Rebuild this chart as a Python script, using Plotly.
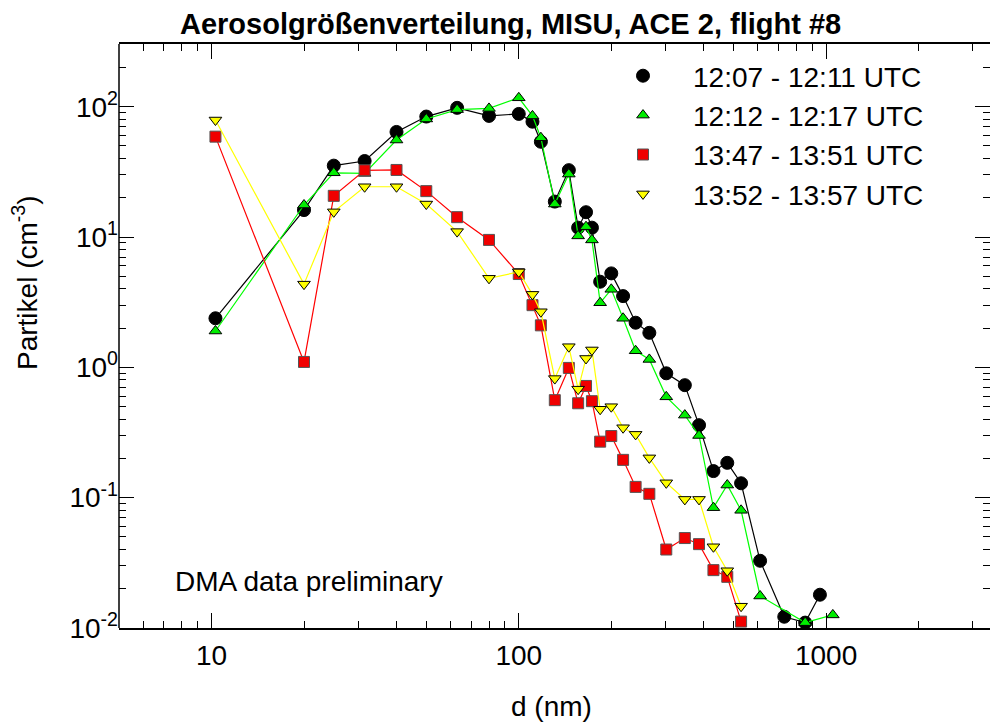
import math
import plotly.graph_objects as go

# ---------------- data ----------------
d_nm = [10.3, 20, 25, 31.5, 40, 50, 63, 80, 100, 110.8, 118, 131, 145.5, 156,
        165.5, 173, 184, 200, 218.5, 240, 266, 302, 347, 386, 430, 477, 529,
        610, 731, 855, 955, 1052]

black_d = d_nm[:31]
black_n = [2.38, 16.1, 35.3, 38.3, 64, 84, 98, 85, 88, 76.7, 53.8, 18.7, 32.6,
           11.8, 15.5, 11.8, 4.54, 5.26, 3.52, 2.2, 1.84, 0.90, 0.73, 0.36,
           0.16, 0.185, 0.129, 0.0328, 0.0122, 0.011, 0.018]

green_d = d_nm[:28] + [855, 1052]
green_n = [1.9, 17.6, 31.1, 30.8, 55.5, 80.5, 95, 97, 117, 85, 57.8, 17.9, 30.4,
           10.2, 12, 9.5, 3.13, 3.97, 2.38, 1.34, 1.15, 0.594, 0.43, 0.30,
           0.0838, 0.125, 0.080, 0.0176, 0.011, 0.0126]

red_d = d_nm[:27]
red_n = [58.9, 1.1, 20.7, 32.5, 32.7, 22.5, 14.2, 9.5, 5.2, 3.0, 2.1, 0.56, 0.99,
         0.53, 0.72, 0.55, 0.269, 0.297, 0.195, 0.121, 0.107, 0.040, 0.049,
         0.044, 0.0278, 0.0247, 0.0112]

yellow_d = d_nm[:27]
yellow_n = [79, 4.35, 15.6, 24.3, 24.3, 17.9, 11.0, 4.82, 5.4, 3.63, 2.67, 0.82,
            1.44, 0.68, 1.17, 1.36, 0.477, 0.499, 0.344, 0.306, 0.202, 0.130,
            0.097, 0.097, 0.042, 0.0275, 0.0147]

series_names = ["12:07 - 12:11 UTC", "12:12 - 12:17 UTC",
                "13:47 - 13:51 UTC", "13:52 - 13:57 UTC"]

x_tickvals = [10, 100, 1000]
x_ticktext = ["10", "100", "1000"]
y_tickvals = [0.01, 0.1, 1, 10, 100]
y_ticktext = ["10<sup>-2</sup>", "10<sup>-1</sup>", "10<sup>0</sup>",
              "10<sup>1</sup>", "10<sup>2</sup>"]

title_text = "Aerosolgrößenverteilung, MISU, ACE 2, flight #8"
x_title = "d (nm)"
y_title = "Partikel (cm<sup>-3</sup>)"
note_text = "DMA data preliminary"

# ---------------- styling ----------------
FONT = "Liberation Sans, Arial, Helvetica, sans-serif"
W, H = 990, 724
ML, MR, MT, MB = 119, 0, 44, 96
PW, PH = W - ML - MR, H - MT - MB


def px(xp):
    return (xp - ML) / PW


def py(yp):
    return (H - MB - yp) / PH


styles = [
    dict(line="#000000", symbol="circle", fill="#000000", edge="#000000", size=13),
    dict(line="#00ff00", symbol="triangle-up", fill="#00ee00", edge="#000000", size=11),
    dict(line="#ff0000", symbol="square", fill="#f00000", edge="#555555", size=11),
    dict(line="#ffff00", symbol="triangle-down", fill="#ffff00", edge="#000000", size=11),
]

fig = go.Figure()
for xs, ys, name, st in zip([black_d, green_d, red_d, yellow_d],
                            [black_n, green_n, red_n, yellow_n],
                            series_names, styles):
    fig.add_trace(go.Scatter(x=xs, y=ys, mode="lines", showlegend=False,
                             line=dict(color=st["line"], width=1.2),
                             hoverinfo="skip"))
    fig.add_trace(go.Scatter(x=xs, y=ys, mode="markers", name=name,
                             marker=dict(symbol=st["symbol"], size=st["size"],
                                         color=st["fill"],
                                         line=dict(color=st["edge"], width=1))))

minor_x = [m * 10 ** e for e in range(0, 4) for m in range(2, 10)
           if 5 <= m * 10 ** e <= 3400]
minor_y = [m * 10 ** e for e in range(-2, 3) for m in range(2, 10)
           if m * 10 ** e <= 300]

axis_common = dict(type="log", showgrid=False, zeroline=False,
                   linecolor="black", linewidth=1.5, mirror="ticks",
                   ticks="inside", ticklen=15, tickwidth=1.2, tickcolor="black",
                   tickfont=dict(family=FONT, size=28, color="black"))

fig.update_xaxes(**axis_common, showline=True, range=[math.log10(5), 3.5335],
                 tickmode="array", tickvals=x_tickvals, ticktext=x_ticktext,
                 ticklabelstandoff=2,
                 minor=dict(tickmode="array", tickvals=minor_x, ticks="inside",
                            ticklen=7, tickwidth=1, tickcolor="black"))
fig.update_yaxes(**axis_common, showline=False, range=[-2, 2.481],
                 tickmode="array", tickvals=y_tickvals, ticktext=y_ticktext,
                 minor=dict(tickmode="array", tickvals=minor_y, ticks="inside",
                            ticklen=7, tickwidth=1, tickcolor="black"))

fig.update_layout(
    width=W, height=H, margin=dict(l=ML, r=MR, t=MT, b=MB, pad=0),
    paper_bgcolor="white", plot_bgcolor="white",
    font=dict(family=FONT, size=28, color="black"),
    showlegend=True,
    legend=dict(x=px(593), y=py(51), xanchor="left", yanchor="top",
                bgcolor="rgba(0,0,0,0)", borderwidth=0,
                font=dict(family=FONT, size=28, color="black"),
                itemwidth=90, tracegroupgap=0, traceorder="normal"),
    shapes=[dict(type="line", xref="paper", yref="paper", x0=0, x1=0,
                 y0=0, y1=1, line=dict(color="black", width=1.5))],
    annotations=[
        dict(text="<b>" + title_text + "</b>", x=px(510), y=py(24),
             xref="paper", yref="paper", xanchor="center", yanchor="middle",
             showarrow=False, font=dict(family=FONT, size=29, color="black")),
        dict(text=x_title, x=px(551), y=py(724), xref="paper", yref="paper",
             xanchor="center", yanchor="bottom", showarrow=False,
             font=dict(family=FONT, size=28, color="black")),
        dict(text=y_title, x=px(25), y=py(283), xref="paper", yref="paper",
             xanchor="center", yanchor="middle", textangle=-90,
             showarrow=False, font=dict(family=FONT, size=28, color="black")),
        dict(text=note_text, x=px(173), y=py(581), xref="paper", yref="paper",
             xanchor="left", yanchor="middle", showarrow=False,
             font=dict(family=FONT, size=28, color="black")),
    ],
)

fig.write_html("out.html")
